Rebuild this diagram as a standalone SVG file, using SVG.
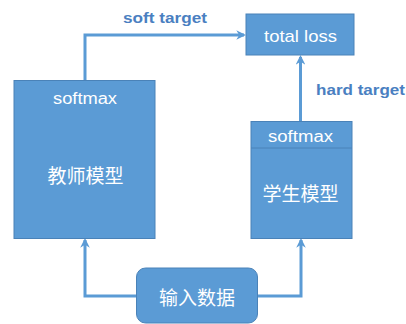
<svg xmlns="http://www.w3.org/2000/svg" width="406" height="324" viewBox="0 0 406 324">
<style>
.box{fill:#5B9BD5;stroke:#4A82B8;stroke-width:1}
.t{font-family:"Liberation Sans","Noto Sans CJK SC",sans-serif;fill:#fff;text-anchor:middle}
.cn{font-family:"Noto Sans CJK SC","Liberation Sans",sans-serif;fill:#fff;text-anchor:middle;font-size:19px}
.lbl{font-family:"Liberation Sans",sans-serif;fill:#4A7FC1;font-weight:bold;font-size:15px}
.c{fill:none;stroke:#5B9BD5;stroke-width:3;marker-end:url(#ah)}
</style>
<defs>
<marker id="ah" viewBox="0 0 10 10" refX="8" refY="5" markerWidth="3.2" markerHeight="3.2" orient="auto">
<path d="M0,0 L10,5 L0,10 L3,5 Z" fill="#5B9BD5"/>
</marker>
</defs>
<rect width="406" height="324" fill="#fff"/>
<g id="connectors">
<path class="c" d="M85,80 L85,35 L244,35"/>
<path class="c" d="M300.5,121 L300.5,57"/>
<path class="c" d="M137,296 L85,296 L85,240"/>
<path class="c" d="M257,296 L301,296 L301,240"/>
<text class="lbl" x="123" y="23" textLength="84" lengthAdjust="spacingAndGlyphs">soft target</text>
<text class="lbl" x="316" y="95" textLength="89" lengthAdjust="spacingAndGlyphs">hard target</text>
</g>
<g id="total-loss">
<rect class="box" x="246" y="14" width="108" height="41"/>
<text class="t" x="300.5" y="41.5" font-size="17" textLength="73" lengthAdjust="spacingAndGlyphs">total loss</text>
</g>
<g id="teacher">
<rect class="box" x="14" y="80.5" width="141" height="158"/>
<text class="t" x="85" y="104" font-size="16" textLength="64" lengthAdjust="spacingAndGlyphs">softmax</text>
<text class="cn" x="85.5" y="183">教师模型</text>
</g>
<g id="student">
<rect class="box" x="251" y="121.5" width="101" height="117"/>
<line x1="251" y1="148" x2="352" y2="148" stroke="#4A82B8" stroke-width="1"/>
<text class="t" x="300.5" y="142" font-size="16" textLength="65" lengthAdjust="spacingAndGlyphs">softmax</text>
<text class="cn" x="300.5" y="201">学生模型</text>
</g>
<g id="input">
<rect class="box" x="136.5" y="268" width="121" height="55" rx="9"/>
<text class="cn" x="197" y="305">输入数据</text>
</g>
</svg>
